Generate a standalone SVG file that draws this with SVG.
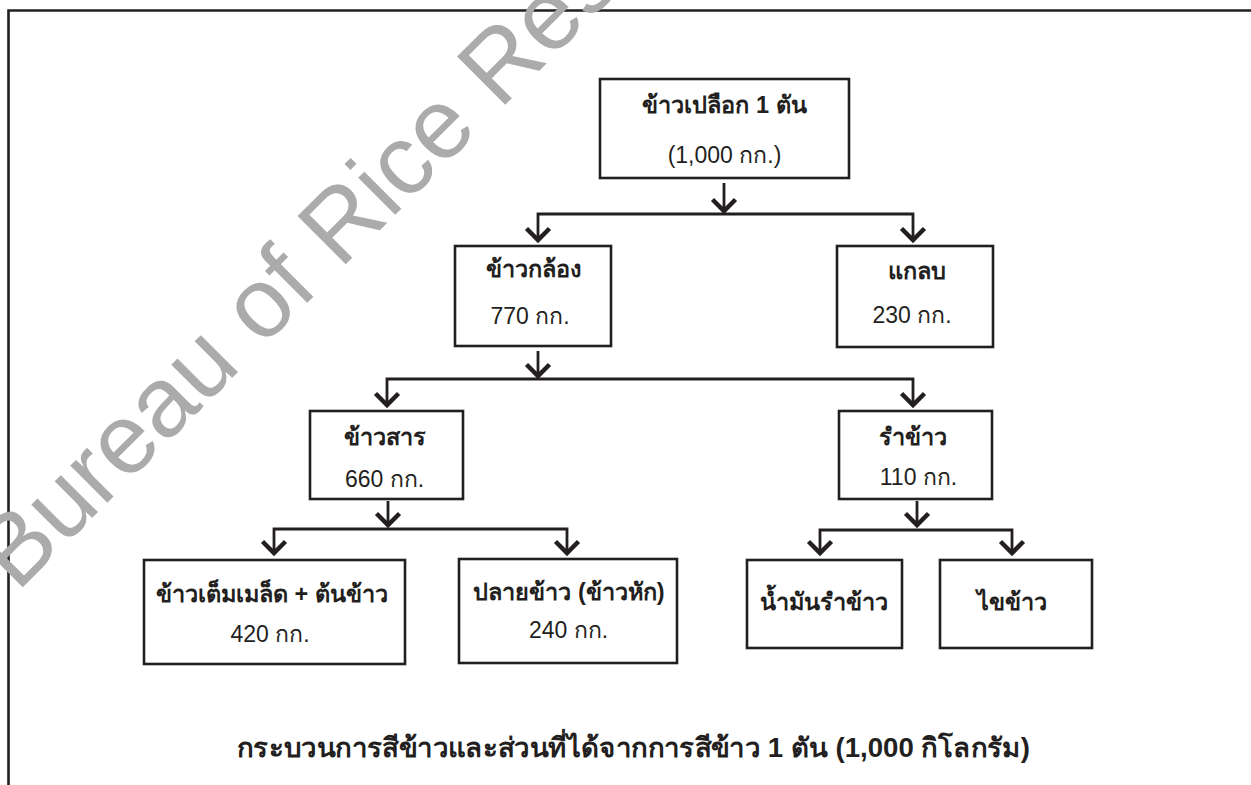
<svg xmlns="http://www.w3.org/2000/svg" width="1251" height="785" viewBox="0 0 1251 785">
<defs>
<style>
.box{fill:#ffffff;stroke:#231f20;stroke-width:2.6}
.t{font-family:'Liberation Sans','Noto Sans',sans-serif;font-size:23px;fill:#231f20;text-anchor:middle}
.b{font-weight:bold;font-size:23.5px}
.cap{font-size:27px}
.con{fill:none;stroke:#231f20;stroke-width:2.8}
.wm{font-family:'Liberation Sans',sans-serif;font-size:99px;fill:#ababab}
</style>
<marker id="ah" viewBox="-16 -16 32 32" markerWidth="32" markerHeight="32" refX="0" refY="0" markerUnits="userSpaceOnUse" orient="auto-start-reverse">
<path d="M-11.5,-11.5 L0,0 L-11.5,11.5" fill="none" stroke="#231f20" stroke-width="4.5" stroke-linejoin="miter"/>
</marker>
</defs>
<rect x="0" y="0" width="1251" height="785" fill="#ffffff"/>
<g id="frame">
<path d="M8.5,785 V10.5 H1251" fill="none" stroke="#231f20" stroke-width="2.6"/>
</g>
<g id="connectors">
<path class="con" d="M724,183 V211" marker-end="url(#ah)"/>
<path class="con" d="M538,240 V214 H913 V240" marker-start="url(#ah)" marker-end="url(#ah)"/>
<path class="con" d="M538,351 V376" marker-end="url(#ah)"/>
<path class="con" d="M387,405 V379 H913 V405" marker-start="url(#ah)" marker-end="url(#ah)"/>
<path class="con" d="M388,501 V525" marker-end="url(#ah)"/>
<path class="con" d="M274,553 V529 H567 V553" marker-start="url(#ah)" marker-end="url(#ah)"/>
<path class="con" d="M917,501 V525" marker-end="url(#ah)"/>
<path class="con" d="M820,553 V530 H1012 V553" marker-start="url(#ah)" marker-end="url(#ah)"/>
</g>
<g id="n-paddy">
<rect class="box" x="600" y="79" width="249" height="99"/>
<text class="t b" x="724.5" y="113">ข้าวเปลือก 1 ตัน</text>
<text class="t" x="724.5" y="163">(1,000 กก.)</text>
</g>
<g id="n-brown">
<rect class="box" x="455" y="246" width="156" height="100"/>
<text class="t b" x="533" y="277">ข้าวกล้อง</text>
<text class="t" x="530" y="324">770 กก.</text>
</g>
<g id="n-husk">
<rect class="box" x="837" y="246" width="156" height="101"/>
<text class="t b" x="917" y="279">แกลบ</text>
<text class="t" x="912" y="323">230 กก.</text>
</g>
<g id="n-milled">
<rect class="box" x="310" y="411" width="153" height="88"/>
<text class="t b" x="385" y="445">ข้าวสาร</text>
<text class="t" x="384.5" y="487">660 กก.</text>
</g>
<g id="n-bran">
<rect class="box" x="839" y="411" width="153" height="88"/>
<text class="t b" x="912.5" y="445">รำข้าว</text>
<text class="t" x="918.5" y="485">110 กก.</text>
</g>
<g id="n-head">
<rect class="box" x="144" y="560" width="261" height="104"/>
<text class="t b" x="272" y="602">ข้าวเต็มเมล็ด + ต้นข้าว</text>
<text class="t" x="270" y="642">420 กก.</text>
</g>
<g id="n-broken">
<rect class="box" x="459" y="559" width="218" height="104"/>
<text class="t b" x="569" y="600">ปลายข้าว (ข้าวหัก)</text>
<text class="t" x="568.5" y="638">240 กก.</text>
</g>
<g id="n-oil">
<rect class="box" x="747" y="560" width="155" height="88"/>
<text class="t b" x="823.5" y="610">น้ำมันรำข้าว</text>
</g>
<g id="n-wax">
<rect class="box" x="940" y="560" width="152" height="88"/>
<text class="t b" x="1011.5" y="610">ไขข้าว</text>
</g>
<g id="caption">
<text class="t b cap" x="633.5" y="757" textLength="793" lengthAdjust="spacingAndGlyphs">กระบวนการสีข้าวและส่วนที่ได้จากการสีข้าว 1 ตัน (1,000 กิโลกรัม)</text>
</g>
<g id="watermark">
<text class="wm" transform="translate(17,593) rotate(-45)">Bureau of Rice Res</text>
</g>
</svg>
